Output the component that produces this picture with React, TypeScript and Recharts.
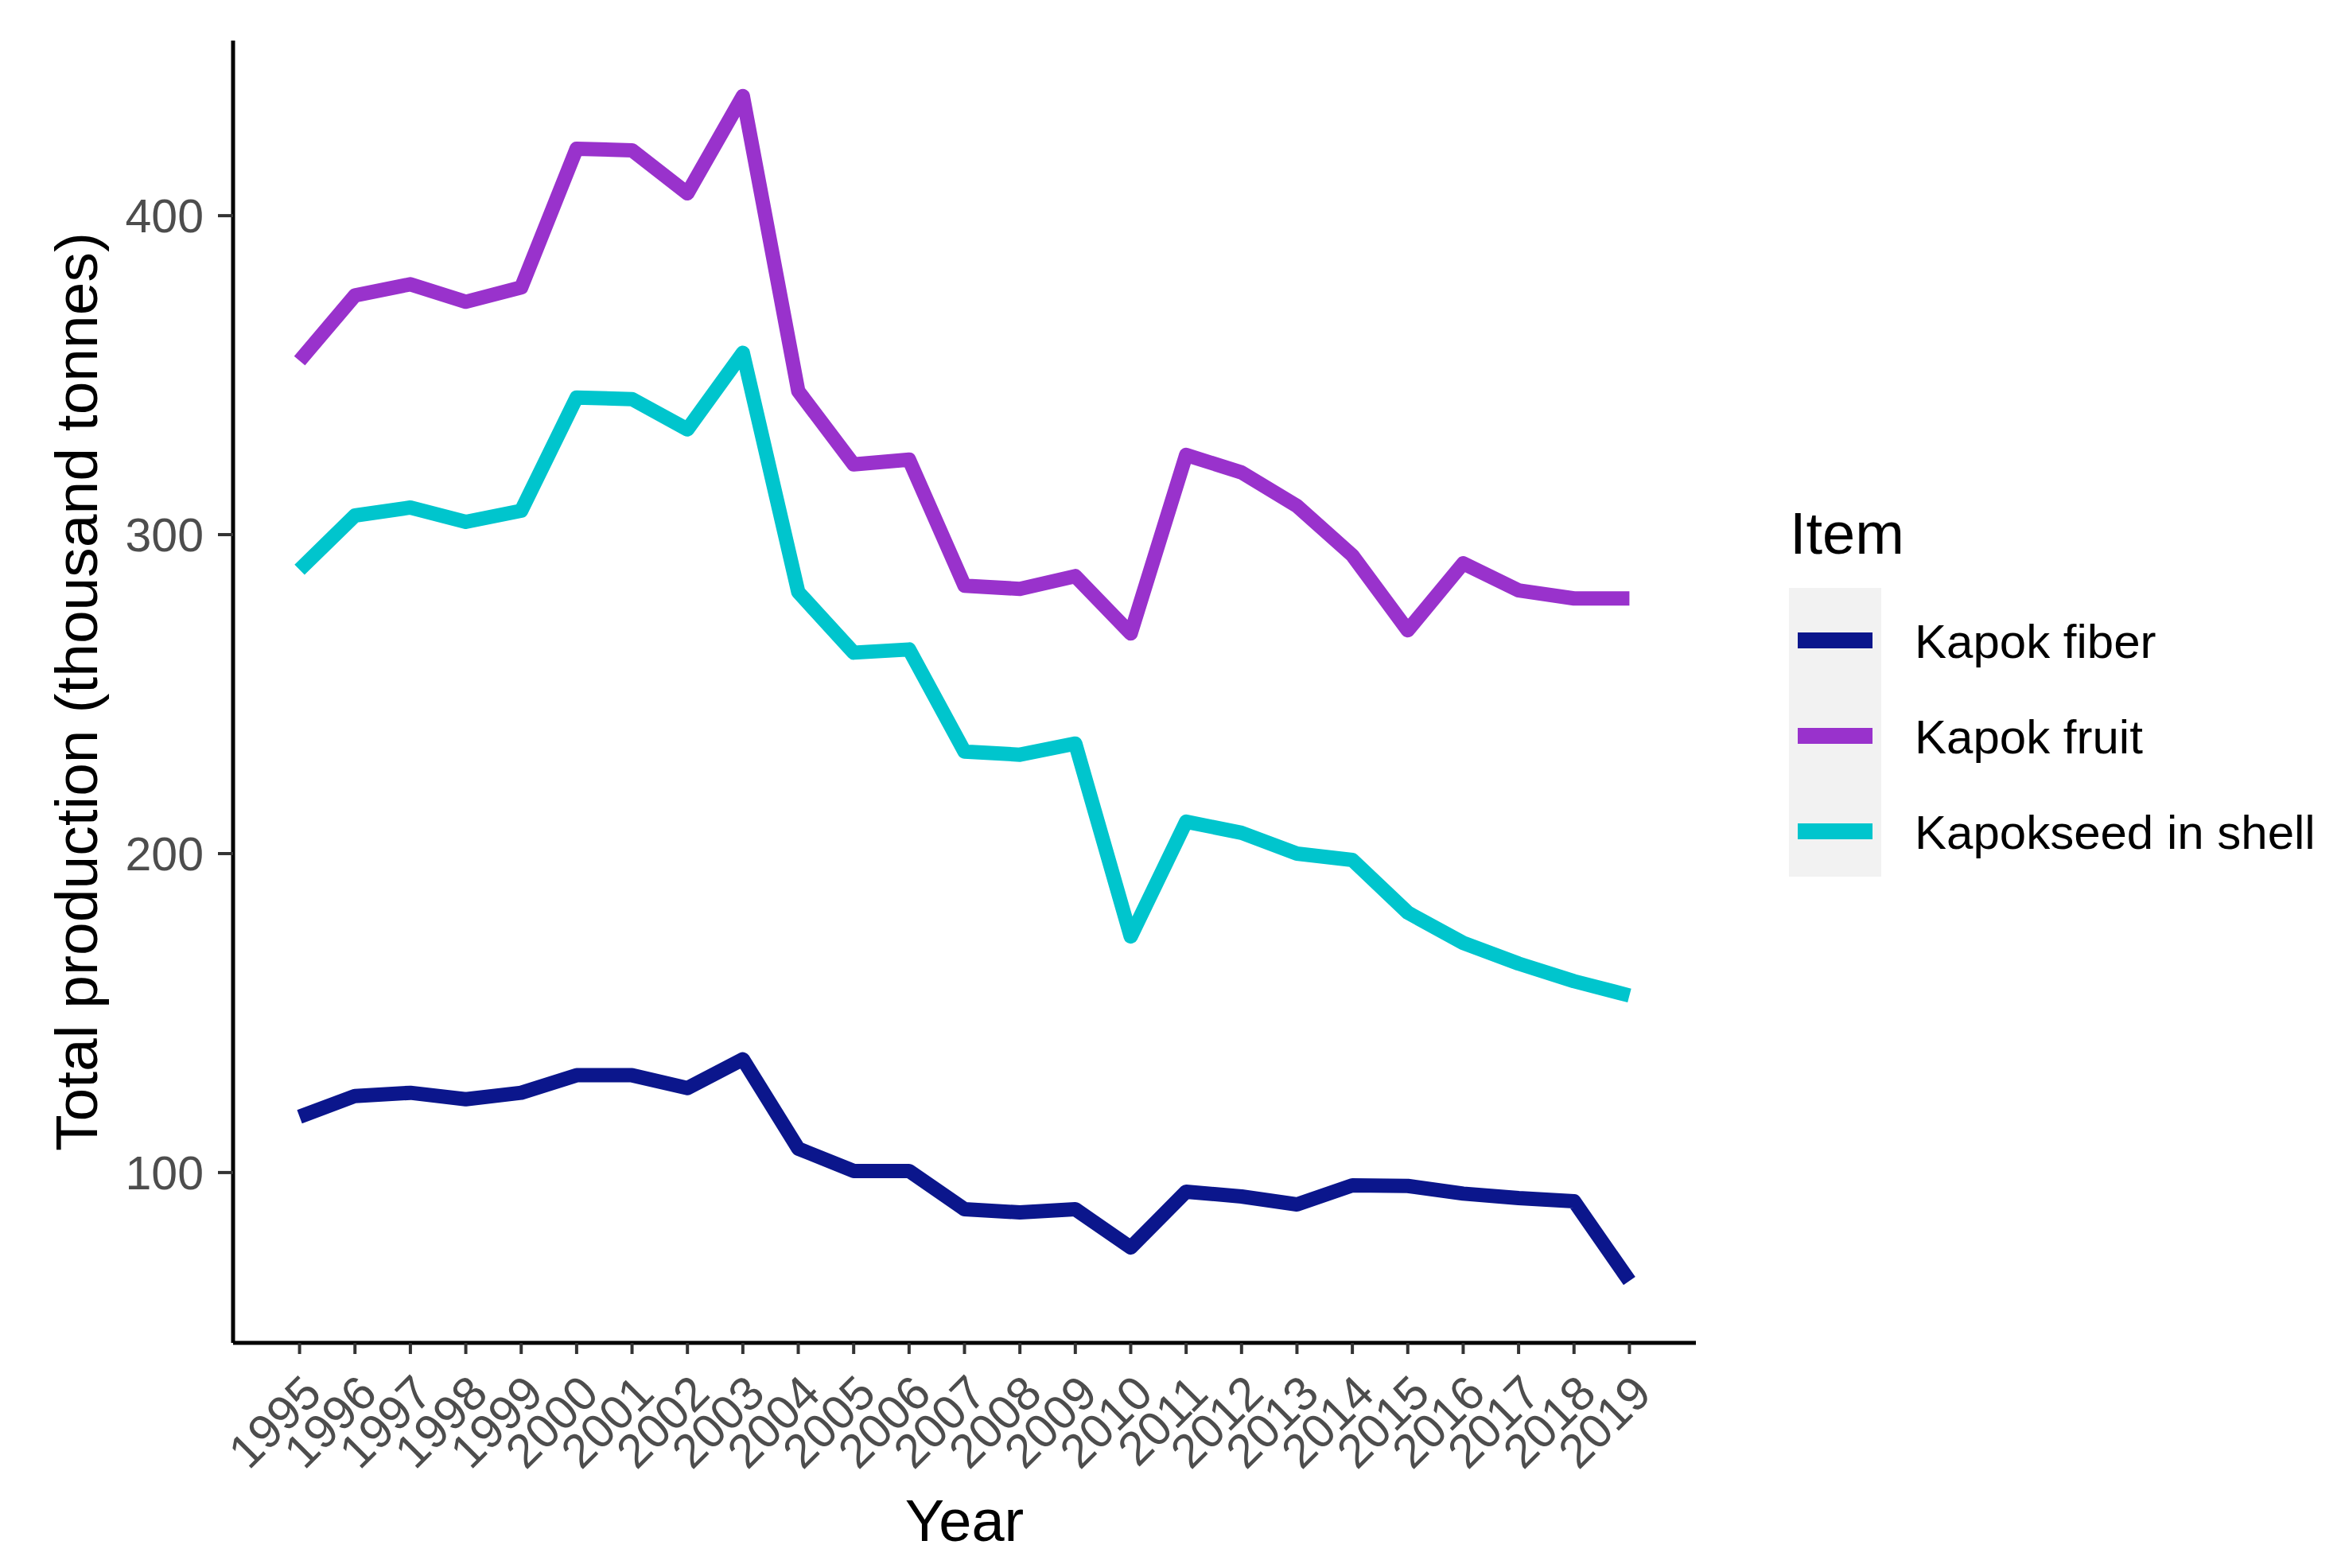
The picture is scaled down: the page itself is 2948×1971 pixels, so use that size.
import React from "react";
import { Label, Legend, Line, LineChart, XAxis, YAxis } from "recharts";

const YEARS = [
  1995, 1996, 1997, 1998, 1999, 2000, 2001, 2002, 2003, 2004, 2005, 2006, 2007,
  2008, 2009, 2010, 2011, 2012, 2013, 2014, 2015, 2016, 2017, 2018, 2019,
];

// thousand tonnes
const KAPOK_FIBER = [
  117.5, 124, 125, 123, 125, 130.5, 130.5, 126.5, 135.5, 107.5, 100.5, 100.5, 88.5,
  87.5, 88.5, 76.5, 94, 92.5, 90, 96, 95.8, 93.4, 92, 91, 66,
];
const KAPOK_FRUIT = [
  354.5, 375, 378.5, 373, 377.5, 421, 420.5, 407, 437.5, 345, 322, 323.5, 284,
  283, 287, 269, 325, 319.5, 309, 293.5, 270, 291, 282.5, 280, 280,
];
const KAPOKSEED_IN_SHELL = [
  289, 306, 308.5, 304, 307.5, 343, 342.5, 333, 357, 282, 263, 264, 232, 231,
  234.5, 174, 210, 206.5, 200, 198, 181.5, 172, 165.5, 160, 155.5,
];

const Y_TICKS = [100, 200, 300, 400];

const SERIES = [
  { key: "fiber", name: "Kapok fiber", color: "#0b168c" },
  { key: "fruit", name: "Kapok fruit", color: "#9932cc" },
  { key: "seed", name: "Kapokseed in shell", color: "#00c5cd" },
];

const data = YEARS.map((year, i) => ({
  year,
  fiber: KAPOK_FIBER[i],
  fruit: KAPOK_FRUIT[i],
  seed: KAPOKSEED_IN_SHELL[i],
}));

const FONT = "'Liberation Sans', Arial, Helvetica, sans-serif";
const TICK_GREY = "#4d4d4d";

function YearTick({ x, y, payload }: { x?: number; y?: number; payload?: { value: number } }) {
  return (
    <g transform={`translate(${x},${(y ?? 0) + 4})`}>
      <text
        transform="rotate(-45)"
        textAnchor="end"
        dy="0.72em"
        fontSize={60}
        fontFamily={FONT}
        fill={TICK_GREY}
      >
        {payload?.value}
      </text>
    </g>
  );
}

function ItemLegend() {
  return (
    <svg width={690} height={500} style={{ display: "block", overflow: "visible" }}>
      <text x={1} y={76} fontSize={74} fontFamily={FONT} fill="#000">
        Item
      </text>
      <rect x={0} y={119} width={116} height={363} fill="#f2f2f2" />
      {SERIES.map((s, i) => (
        <g key={s.key}>
          <line
            x1={11}
            x2={105}
            y1={185 + i * 120}
            y2={185 + i * 120}
            stroke={s.color}
            strokeWidth={20}
          />
          <text x={158} y={207 + i * 120} fontSize={60} fontFamily={FONT} fill="#000">
            {s.name}
          </text>
        </g>
      ))}
    </svg>
  );
}

export default function App() {
  return (
    <div style={{ fontFamily: FONT, background: "#fff" }}>
      <style>{"body{margin:0;background:#fff}"}</style>
      <LineChart
        width={2948}
        height={1971}
        data={data}
        margin={{ top: 51, right: 816, bottom: 0, left: 0 }}
      >
        <XAxis
          dataKey="year"
          type="number"
          domain={[1993.8, 2020.2]}
          ticks={YEARS}
          interval={0}
          height={283}
          tickSize={14}
          tickMargin={18}
          axisLine={{ stroke: "#000", strokeWidth: 5 }}
          tickLine={{ stroke: "#333", strokeWidth: 4 }}
          tick={<YearTick />}
        >
          <Label
            content={(props: any) => {
              const vb = props.viewBox;
              return (
                <text
                  x={vb.x + vb.width / 2}
                  y={1937}
                  textAnchor="middle"
                  fontSize={74}
                  fontFamily={FONT}
                  fill="#000"
                >
                  Year
                </text>
              );
            }}
          />
        </XAxis>
        <YAxis
          type="number"
          domain={[46.6, 454.9]}
          ticks={Y_TICKS}
          interval={0}
          width={293}
          tickSize={19}
          tickMargin={18}
          axisLine={{ stroke: "#000", strokeWidth: 5 }}
          tickLine={{ stroke: "#333", strokeWidth: 4 }}
          tick={{ fontSize: 59, fontFamily: FONT, fill: TICK_GREY }}
        >
          <Label
            content={(props: any) => {
              const vb = props.viewBox;
              const cy = vb.y + vb.height / 2;
              return (
                <text
                  x={122}
                  y={cy}
                  transform={`rotate(-90, 122, ${cy})`}
                  textAnchor="middle"
                  fontSize={75}
                  fontFamily={FONT}
                  fill="#000"
                >
                  Total production (thousand tonnes)
                </text>
              );
            }}
          />
        </YAxis>
        <Legend
          layout="vertical"
          align="center"
          verticalAlign="middle"
          content={<ItemLegend />}
          wrapperStyle={{ left: 2249, top: 620, width: 690, height: 500 }}
        />
        {SERIES.map((s) => (
          <Line
            key={s.key}
            type="linear"
            dataKey={s.key}
            name={s.name}
            stroke={s.color}
            strokeWidth={18}
            strokeLinejoin="round"
            strokeLinecap="butt"
            dot={false}
            activeDot={false}
            isAnimationActive={false}
          />
        ))}
      </LineChart>
    </div>
  );
}
